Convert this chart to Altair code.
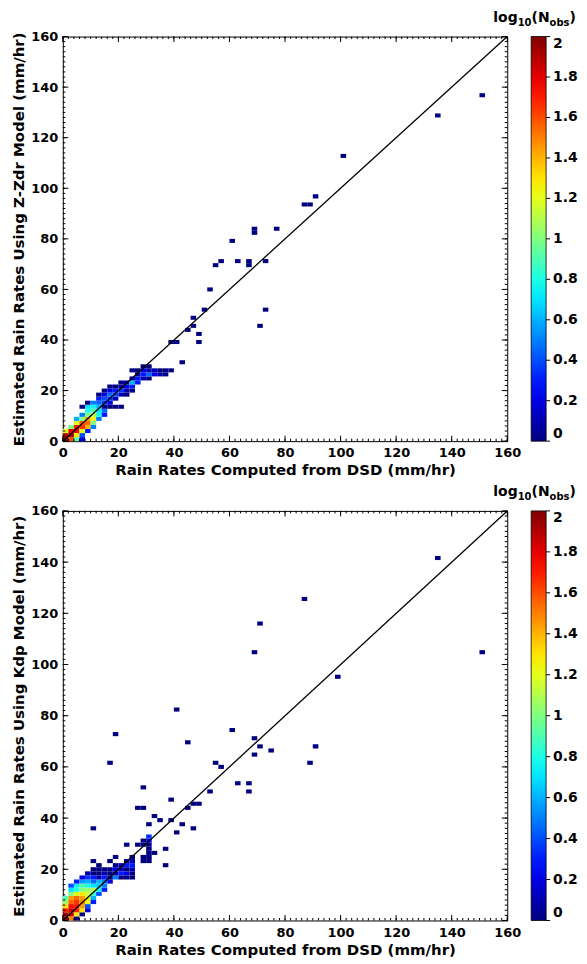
import altair as alt
import pandas as pd

FONT = "DejaVu Sans"
DX, DY = 2.0, 1.6          # bin width (x) and height (y), mm/hr
W, H1, H2 = 446, 406, 411

x_title = "Rain Rates Computed from DSD (mm/hr)"
y_title_top = "Estimated Rain Rates Using Z-Zdr Model (mm/hr)"
y_title_bot = "Estimated Rain Rates Using Kdp Model (mm/hr)"

axis_ticks = [0, 20, 40, 60, 80, 100, 120, 140, 160]
minor_ticks = list(range(0, 161, 2))
cbar_ticks = [0, 0.2, 0.4, 0.6, 0.8, 1, 1.2, 1.4, 1.6, 1.8, 2]
line_xy = [0, 160]

# ---------------- top panel (Z-Zdr) : dense bins (lower-left corner) ----------------
top_x = [0, 2, 4, 6,
         0, 2, 4, 6,
         0, 2, 4, 6, 8,
         2, 4, 6, 8, 10,
         4, 6, 8, 10,
         4, 6, 8, 10, 12,
         6, 8, 10, 12, 14,
         8, 10, 12, 14,
         6, 8, 10, 12, 14, 16, 18, 20,
         8, 10, 12, 14, 16,
         12, 14, 16, 18,
         12, 14, 16, 18, 20, 22,
         14, 16, 18, 20, 22, 24,
         16, 18, 20, 22, 24,
         20, 22, 24, 26,
         24, 26, 28, 30,
         26, 28, 30, 32, 34, 36,
         24, 26, 28, 30, 32, 34, 36, 38,
         28, 30]
top_y = [0.0] * 4 + [1.6] * 4 + [3.2] * 5 + [4.8] * 5 + [6.4] * 4 + [8.0] * 5 + [9.6] * 5 + \
        [11.2] * 4 + [12.8] * 8 + [14.4] * 5 + [16.0] * 4 + [17.6] * 6 + [19.2] * 6 + \
        [20.8] * 5 + [22.4] * 4 + [24.0] * 4 + [25.6] * 6 + [27.2] * 8 + [28.8] * 2
top_v = [2.0, 1.6, 0.9, 0.2,
         1.9, 1.95, 1.3, 0.4,
         1.2, 1.8, 1.75, 1.2, 0.3,
         1.0, 1.7, 1.65, 1.4, 0.5,
         1.2, 1.6, 1.55, 1.0,
         0.6, 1.0, 1.45, 1.25, 0.5,
         0.5, 1.0, 1.1, 0.8, 0.3,
         0.8, 0.9, 0.7, 0.45,
         0.0, 0.7, 0.75, 0.6, 0.0, 0.0, 0.0, 0.0,
         0.0, 0.5, 0.45, 0.35, 0.2,
         0.3, 0.4, 0.35, 0.1,
         0.0, 0.2, 0.45, 0.4, 0.1, 0.0,
         0.0, 0.2, 0.3, 0.35, 0.1, 0.0,
         0.0, 0.0, 0.05, 0.2, 0.3,
         0.0, 0.1, 0.6, 0.3,
         0.1, 0.3, 0.1, 0.0,
         0.05, 0.3, 0.45, 0.2, 0.1, 0.0,
         0.0, 0.0, 0.2, 0.1, 0.1, 0.0, 0.0, 0.0,
         0.0, 0.0]
# single-observation bins (log10 N = 0)
top_out_x = [42, 38, 40, 44, 46, 46, 48, 48, 50, 52, 54, 56, 60, 62, 66, 66, 72, 68, 68, 76,
             72, 70, 86, 88, 90, 100, 134, 150]
top_out_y = [30.4, 38.4, 38.4, 43.2, 44.8, 48.0, 41.6, 38.4, 51.2, 59.2, 68.8, 70.4, 78.4, 70.4,
             68.8, 70.4, 70.4, 81.6, 83.2, 83.2, 51.2, 44.8, 92.8, 92.8, 96.0, 112.0, 128.0, 136.0]

# ---------------- bottom panel (Kdp) : dense bins ----------------
bot_x = [0, 2, 4,
         0, 2, 4, 6,
         0, 2, 4, 6, 8,
         0, 2, 4, 6, 8,
         0, 2, 4, 6, 8, 10,
         0, 2, 4, 6, 8, 10,
         2, 4, 6, 8, 10, 12,
         2, 4, 6, 8, 10, 12, 14,
         2, 4, 6, 8, 10, 12, 14,
         4, 6, 8, 10, 12, 14, 16,
         6, 8, 10, 12, 14, 16, 18, 20, 22, 24,
         8, 10, 12, 14, 16, 18, 20, 22, 24,
         10, 12, 14, 16, 18, 20, 22, 24,
         12, 18, 20, 22, 24, 36,
         10, 16, 22, 24, 28, 30,
         18, 24, 28, 30,
         30, 32,
         30, 36,
         22, 26, 28, 30,
         28, 30,
         30]
bot_y = [0.0] * 3 + [1.6] * 4 + [3.2] * 5 + [4.8] * 5 + [6.4] * 6 + [8.0] * 6 + [9.6] * 6 + \
        [11.2] * 7 + [12.8] * 7 + [14.4] * 7 + [16.0] * 10 + [17.6] * 9 + [19.2] * 8 + \
        [20.8] * 6 + [22.4] * 6 + [24.0] * 4 + [25.6] * 2 + [27.2] * 2 + [28.8] * 4 + \
        [30.4] * 2 + [32.0] * 1
bot_v = [2.0, 1.5, 0.0,
         1.95, 1.85, 1.3, 0.0,
         1.7, 1.85, 1.7, 1.3, 0.2,
         1.3, 1.75, 1.7, 1.45, 0.4,
         1.05, 1.55, 1.65, 1.5, 1.2, 0.3,
         0.9, 1.45, 1.55, 1.45, 1.25, 0.6,
         1.0, 1.2, 1.3, 1.15, 0.85, 0.4,
         0.7, 0.8, 1.0, 1.05, 1.1, 0.75, 0.3,
         0.4, 0.75, 0.9, 0.8, 0.7, 0.65, 0.5,
         0.3, 0.55, 0.6, 0.45, 0.6, 0.5, 0.2,
         0.2, 0.35, 0.3, 0.1, 0.3, 0.0, 0.5, 0.0, 0.0, 0.0,
         0.1, 0.0, 0.0, 0.1, 0.0, 0.1, 0.3, 0.2, 0.0,
         0.0, 0.0, 0.0, 0.0, 0.2, 0.1, 0.0, 0.1,
         0.0, 0.0, 0.1, 0.3, 0.3, 0.0,
         0.0, 0.0, 0.0, 0.1, 0.0, 0.0,
         0.0, 0.0, 0.0, 0.0,
         0.0, 0.0,
         0.0, 0.0,
         0.0, 0.0, 0.0, 0.0,
         0.0, 0.2,
         0.35]
bot_out_x = [134, 86, 70, 68, 150, 98, 40, 44, 60, 68, 68, 70, 74, 90, 88, 54, 56, 62, 66, 66,
             52, 38, 46, 48, 44, 18, 16, 28, 26, 28, 32, 34, 30, 38, 42, 46, 40, 10]
bot_out_y = [140.8, 124.8, 115.2, 104.0, 104.0, 94.4, 81.6, 68.8, 73.6, 70.4, 64.0, 67.2, 65.6,
             67.2, 60.8, 60.8, 59.2, 52.8, 52.8, 49.6, 49.6, 46.4, 44.8, 44.8, 43.2, 72.0, 60.8,
             51.2, 43.2, 43.2, 40.0, 38.4, 36.8, 38.4, 36.8, 35.2, 33.6, 35.2]


def jet(t):
    c = lambda u: max(0.0, min(1.0, u))
    r, g, b = c(1.5 - abs(4 * t - 3)), c(1.5 - abs(4 * t - 2)), c(1.5 - abs(4 * t - 1))
    return "#%02x%02x%02x" % (round(r * 255), round(g * 255), round(b * 255))


stops = [i / 20 for i in range(21)]
cscale = alt.Scale(domain=[2 * s for s in stops], range=[jet(s) for s in stops], interpolate="rgb")


def panel(cx, cy, cv, ox, oy, ytitle, h, lpad, tpad):
    cells = pd.DataFrame({"x": cx + ox, "y": cy + oy, "v": cv + [0.0] * len(ox)})
    sx = alt.Scale(domain=[0, 160], nice=False, zero=False)
    sy = alt.Scale(domain=[0, 160], nice=False, zero=False)
    xax = alt.Axis(values=axis_ticks, format="d", labelFlush=False, title=x_title, ticks=False,
                   tickSize=0, domain=False, grid=False, labelPadding=lpad, titlePadding=tpad)
    yax = alt.Axis(values=axis_ticks, format="d", title=ytitle, ticks=False, tickSize=0,
                   domain=False, grid=False, labelPadding=5, titlePadding=4)
    X = lambda f: alt.X(f, type="quantitative", scale=sx, axis=xax)
    Y = lambda f: alt.Y(f, type="quantitative", scale=sy, axis=yax)

    rect = alt.Chart(cells).transform_calculate(
        x2=f"datum.x + {DX}", y2=f"datum.y + {DY}"
    ).mark_rect(strokeWidth=0).encode(
        x=X("x"), x2="x2:Q", y=Y("y"), y2="y2:Q",
        color=alt.Color("v:Q", scale=cscale, legend=alt.Legend(
            orient="none", legendX=W + 24, legendY=0, direction="vertical",
            gradientLength=h, gradientThickness=15, gradientStrokeColor="black",
            gradientStrokeWidth=0.8, values=cbar_ticks, format="~g", title=None,
            labelFont=FONT, labelFontSize=14, labelFontWeight="bold", labelColor="black",
            labelOffset=7, labelOverlap=False, labelBaseline="middle")),
    )
    diag = alt.Chart(pd.DataFrame({"x": line_xy, "y": line_xy})).mark_line(
        color="black", strokeWidth=1.3).encode(x=X("x"), y=Y("y"))

    mt = pd.DataFrame({"t": minor_ticks})
    Mt = pd.DataFrame({"t": axis_ticks})
    layers = [rect, diag]
    for df, L in ((mt, 2.5), (Mt, 5.5)):
        base = alt.Chart(df).mark_rule(color="black", strokeWidth=1)
        layers += [
            base.encode(x=X("t"), y=alt.value(h), y2=alt.value(h - L)),
            base.encode(x=X("t"), y=alt.value(0), y2=alt.value(L)),
            base.encode(y=Y("t"), x=alt.value(0), x2=alt.value(L)),
            base.encode(y=Y("t"), x=alt.value(W), x2=alt.value(W - L)),
        ]
    cb = alt.Chart(pd.DataFrame({"c": cbar_ticks})).transform_calculate(
        yy="datum.c * 80").mark_rule(color="black", strokeWidth=1).encode(
        y=Y("yy"), x=alt.value(W + 39), x2=alt.value(W + 43))
    layers.append(cb)

    # colour-bar title  log10(Nobs) with subscripts
    x0 = W - 14
    parts = [("log", 14, 1.746, -15), ("10", 10, 1.392, -10.5),
             ("(N", 14, 1.294, -15), ("obs", 10, 1.998, -10.5), (")", 14, 0.457, -15)]
    xp = x0
    for txt, fs, em, yb in parts:
        layers.append(alt.Chart(pd.DataFrame({"s": [txt]})).mark_text(
            align="left", baseline="alphabetic", font=FONT, fontSize=fs, fontWeight="bold",
            color="black").encode(x=alt.value(xp), y=alt.value(yb), text="s:N"))
        xp += fs * em
    return alt.layer(*layers).properties(width=W, height=h)


top = panel(top_x, top_y, top_v, top_out_x, top_out_y, y_title_top, H1, 5, 3)
bot = panel(bot_x, bot_y, bot_v, bot_out_x, bot_out_y, y_title_bot, H2, 6, 3)

chart = alt.vconcat(top, bot, spacing=6).resolve_scale(color="independent").configure_view(
    stroke="black", strokeWidth=1
).configure_axis(
    labelFont=FONT, labelFontSize=13, labelFontWeight="bold", labelColor="black",
    titleFont=FONT, titleFontSize=15, titleFontWeight="bold", titleColor="black"
).properties(padding={"left": 3, "top": 0, "right": 0, "bottom": 0})

chart.save("out.html", embed_options={"renderer": "svg", "actions": False})
